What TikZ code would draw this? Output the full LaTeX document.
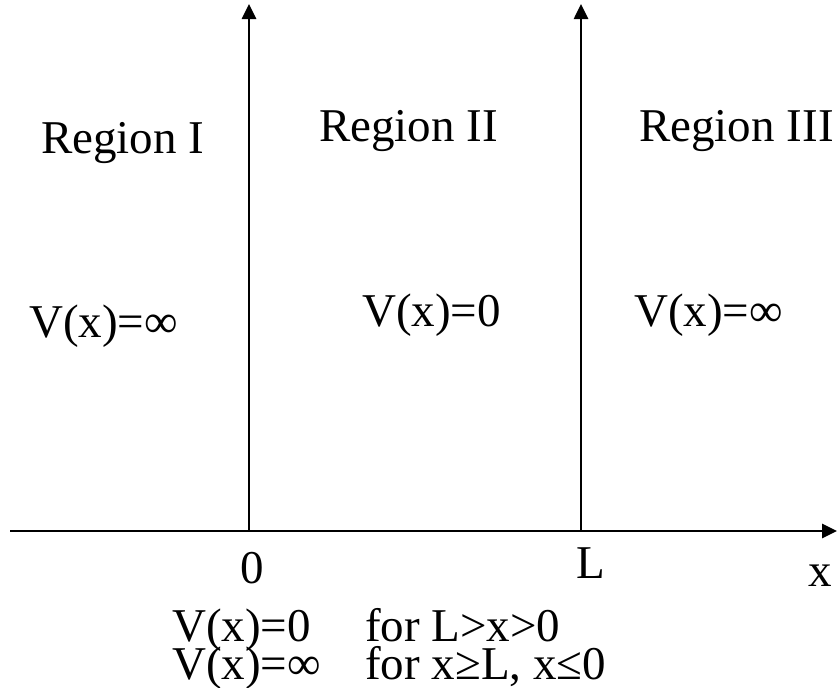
\documentclass[tikz,border=0pt]{standalone}
\usepackage{fontspec}
\setmainfont{Liberation Serif}
\usetikzlibrary{arrows.meta}
\begin{document}
\begin{tikzpicture}[x=1pt,y=-1pt,
  axis/.style={line width=2.6pt,-{Triangle[length=15pt,width=14pt]}},
  lbl/.style={inner sep=0pt,anchor=base west,font=\fontsize{47}{56}\selectfont}]
\useasboundingbox (0,0) rectangle (838,688);
\coordinate (o) at (249,531);
\coordinate (l) at (581,531);
\coordinate (xs) at (10,531);
\coordinate (xe) at (837,531);
\coordinate (ot) at (249,4);
\coordinate (lt) at (581,4);
\draw[axis] (xs) -- (xe);
\draw[axis] (o) -- (ot);
\draw[axis] (l) -- (lt);
\node[lbl] (r1) at (41,153) {Region I};
\node[lbl] (r2) at (319,141) {Region II};
\node[lbl] (r3) at (639,141) {Region III};
\node[lbl] (v1) at (29,337) {V(x)=∞};
\node[lbl] (v2) at (362,326) {V(x)=0};
\node[lbl] (v3) at (634,326) {V(x)=∞};
\node[lbl] (z) at (240,583) {0};
\node[lbl] (lL) at (576,578) {L};
\node[lbl] (lx) at (808,586) {x};
\node[lbl] (c1a) at (172,641) {V(x)=0};
\node[lbl] (c1b) at (365,641) {for L>x>0};
\node[lbl] (c2a) at (172,679) {V(x)=∞};
\node[lbl] (c2b) at (365,679) {for x≥L, x≤0};
\end{tikzpicture}
\end{document}
